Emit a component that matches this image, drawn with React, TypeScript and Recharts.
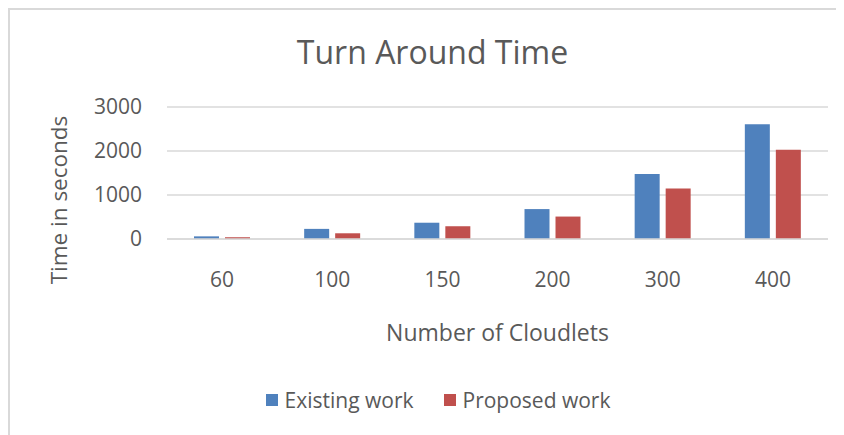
import { BarChart, Bar, XAxis, YAxis, CartesianGrid, Legend } from 'recharts'

const categories = ['60', '100', '150', '200', '300', '400']
const existingWork = [60, 230, 370, 680, 1480, 2610]
const proposedWork = [40, 130, 290, 510, 1150, 2030]
const yTicks = [0, 1000, 2000, 3000]

const data = categories.map((name, i) => ({
  name,
  existing: existingWork[i],
  proposed: proposedWork[i],
}))

const FONT = '"Open Sans", sans-serif'
const TEXT = '#595959'

const renderLegend = (props: any) => (
  <div style={{ display: 'flex', justifyContent: 'center', alignItems: 'center', fontFamily: FONT, fontSize: 21, color: TEXT }}>
    {(props.payload || []).map((entry: any, i: number) => (
      <div key={`legend-${i}`} style={{ display: 'flex', alignItems: 'center', marginLeft: i > 0 ? 30 : 0 }}>
        <span style={{ display: 'inline-block', width: 12, height: 12, background: entry.color, marginRight: 7 }} />
        <span>{entry.value}</span>
      </div>
    ))}
  </div>
)

const renderYLabel = (props: any) => {
  const vb = props.viewBox || { x: 0, y: 0, width: 0, height: 0 }
  const cx = vb.x + 50
  const cy = vb.y + vb.height / 2 + 27
  return (
    <text x={cx} y={cy} transform={`rotate(-90, ${cx}, ${cy})`} textAnchor="middle" dominantBaseline="central" fill={TEXT} fontSize={22.5} fontFamily={FONT}>
      Time in seconds
    </text>
  )
}

const App = () => (
  <div style={{ position: 'relative', width: 836, height: 427 }}>
    <div style={{ position: 'absolute', left: 0, top: 0, width: 836, height: 427, borderTop: '2px solid #D9D9D9', borderLeft: '2px solid #D9D9D9', boxSizing: 'border-box' }} />
    <div style={{ position: 'absolute', left: 0, top: 24, width: 849, textAlign: 'center', fontFamily: FONT, fontSize: 32, color: TEXT, lineHeight: '40px' }}>
      Turn Around Time
    </div>
    <div style={{ position: 'absolute', left: 0, top: 0 }}>
      <BarChart width={836} height={427} data={data} margin={{ top: 99, right: 16, bottom: 94, left: 0 }} barSize={25} barGap={6}>
        <CartesianGrid vertical={false} stroke="#D9D9D9" strokeWidth={1.5} />
        <XAxis
          dataKey="name"
          height={102}
          tickLine={false}
          tickSize={0}
          tickMargin={33}
          axisLine={{ stroke: '#D9D9D9', strokeWidth: 1.5 }}
          tick={{ fill: TEXT, fontSize: 21, fontFamily: FONT }}
          label={{ value: 'Number of Cloudlets', position: 'insideBottom', offset: 0, fill: TEXT, fontSize: 23, fontFamily: FONT }}
        />
        <YAxis
          width={159}
          domain={[0, 3000]}
          ticks={yTicks}
          tickLine={false}
          tickSize={0}
          tickMargin={25}
          axisLine={false}
          tick={{ fill: TEXT, fontSize: 21, fontFamily: FONT }}
          label={{ content: renderYLabel }}
        />
        <Legend
          layout="horizontal"
          verticalAlign="middle"
          align="center"
          content={renderLegend}
          wrapperStyle={{ top: 378, left: 200, width: 460 }}
        />
        <Bar dataKey="existing" name="Existing work" fill="#4F81BD" isAnimationActive={false} />
        <Bar dataKey="proposed" name="Proposed work" fill="#C0504D" isAnimationActive={false} />
      </BarChart>
    </div>
  </div>
)

export default App
